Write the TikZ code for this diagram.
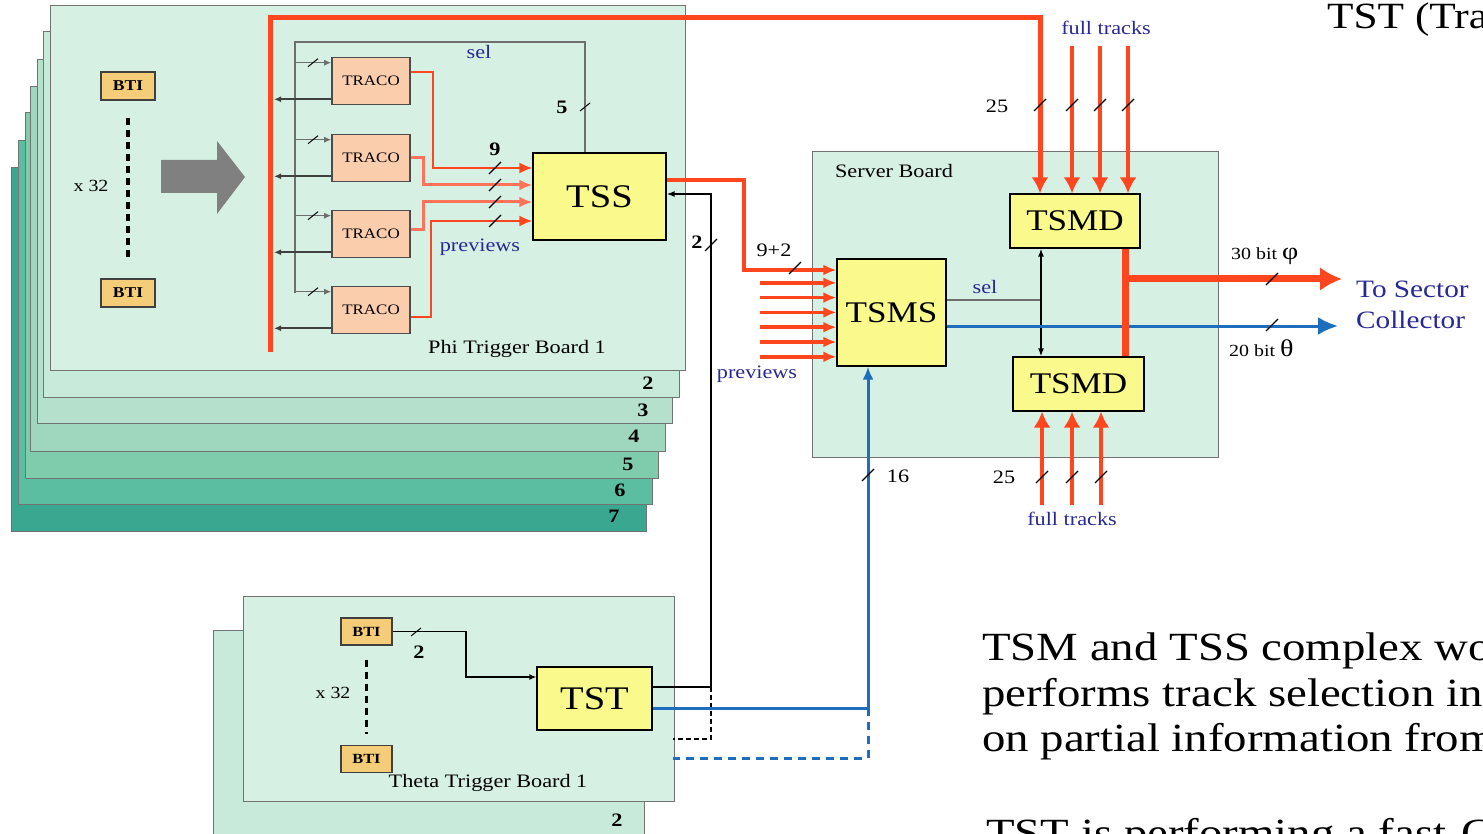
\documentclass[tikz,border=0pt]{standalone}
\usepackage{fontspec}
\setmainfont{Liberation Serif}[FakeStretch=1.17]
\usetikzlibrary{arrows.meta,calc}
\definecolor{rd}{RGB}{255,70,30}
\definecolor{rdl}{RGB}{255,115,90}
\definecolor{bl}{RGB}{30,110,190}
\definecolor{tb}{RGB}{40,40,150}
\definecolor{yel}{RGB}{250,250,140}
\definecolor{peach}{RGB}{250,205,172}
\definecolor{btic}{RGB}{245,205,120}
\definecolor{pb1}{RGB}{214,240,228}
\definecolor{pb2}{RGB}{200,234,218}
\definecolor{pb3}{RGB}{180,224,204}
\definecolor{pb4}{RGB}{158,214,190}
\definecolor{pb5}{RGB}{126,204,172}
\definecolor{pb6}{RGB}{92,190,160}
\definecolor{pb7}{RGB}{58,168,144}
\definecolor{arrgray}{RGB}{128,128,128}
\definecolor{selgray}{RGB}{110,110,110}
\begin{document}
\begin{tikzpicture}[x=1pt,y=-1pt,
  board/.style={draw=black!55, line width=0.8pt},
  ybox/.style={draw=black, line width=1.3pt, fill=yel, inner sep=0pt},
  trbox/.style={draw=black!70, line width=1.6pt, fill=peach, minimum width=78pt, minimum height=47pt, inner sep=0pt, font=\fontsize{14.5}{16}\selectfont},
  btibox/.style={draw=black!75, line width=1.5pt, fill=btic, inner sep=0pt, font=\bfseries\fontsize{15}{16}\selectfont},
  lbl/.style={inner sep=0pt, font=\fontsize{19}{22}\selectfont},
  blbl/.style={lbl, text=tb},
  numlbl/.style={inner sep=0pt, font=\bfseries\fontsize{19}{22}\selectfont},
  bigtxt/.style={inner sep=0pt, anchor=base west, font=\fontsize{40}{46}\selectfont},
  selline/.style={draw=selgray, line width=1.2pt},
  outline/.style={draw=black!75, line width=2.2pt},
  tarr/.style={-{Latex[length=7pt,width=6pt]}},
  rarr/.style={-{Latex[length=13pt,width=11pt]}},
  rarrB/.style={-{Latex[length=16pt,width=17pt]}},
  slash/.pic={\draw[black, line width=1.3pt] (-6,6) -- (6,-6);},
  sslash/.pic={\draw[black, line width=1pt] (-5,4) -- (5,-4);}
]
\useasboundingbox (0,0) rectangle (1483,834);
\fill[white] (0,0) rectangle (1483,834);

% ---------- Phi trigger boards ----------
\foreach \l/\t/\r/\b/\c/\n/\nx/\ny in {11/167/646/531/pb7/7/614/516, 18/140/652/504/pb6/6/620/490, 25/112/658/478/pb5/5/628/464, 30/86/665/451/pb4/4/634/436, 37/59/672/423/pb3/3/643/410, 43/31/679/397/pb2/2/648/383}{
  \draw[board,fill=\c] (\l,\t) rectangle (\r,\b);
  \node[numlbl] (phin\n) at (\nx,\ny) {\n};
}
\draw[board,fill=pb1] (50,5) rectangle (685,370);
\node[lbl] (phitxt) at (517,349) {Phi Trigger Board 1};

% BTI column
\node[btibox, minimum width=54pt, minimum height=28pt] (bti1) at (128,86) {BTI};
\node[btibox, minimum width=54pt, minimum height=28pt] (bti2) at (128,293) {BTI};
\draw[black, line width=3.5pt, dash pattern=on 7pt off 5pt] ($(bti1.south)+(0,17)$) -- ($(bti2.north)+(0,-18)$);
\node[lbl, font=\fontsize{17}{20}\selectfont] (x32a) at (91,186) {x 32};

% gray block arrow
\fill[arrgray] (161,160) -- (217,160) -- (217,141) -- (245,177) -- (217,214) -- (217,193) -- (161,193) -- cycle;

% TRACOs and TSS
\foreach \i/\y in {1/81,2/158,3/234,4/310} \node[trbox] (tr\i) at (371,\y) {TRACO};
\node[ybox, minimum width=133pt, minimum height=87pt, font=\fontsize{33}{36}\selectfont] (tss) at (599.5,196.5) {TSS};

% sel loop
\coordinate (selR) at (585,42);
\coordinate (selL) at (295,42);
\coordinate (selB) at (295,293);
\coordinate (redV) at (270,0);
\draw[selline] (tss.north -| selR) -- (selR) -- (selL) -- (selB);
\pic at (585,107) {sslash};
\node[numlbl] (n5) at (562,107) {5};
\node[blbl] (sel1) at (479,52) {sel};
\foreach \i in {1,...,4} {
  \coordinate (in\i) at ($(tr\i.north west)+(0,6)$);
  \draw[selline, tarr] (selL |- in\i) -- (in\i);
  \pic at ($(selL |- in\i)+(18,0)$) {sslash};
  \coordinate (out\i) at ($(tr\i.south west)+(0,-6)$);
  \draw[outline, tarr] (out\i) -- ($(redV |- out\i)+(4,0)$);
}

% TRACO -> TSS
\coordinate (k1) at (433,168);
\coordinate (k2) at (423,185);
\coordinate (k3) at (423,202);
\coordinate (k4) at (431,221);
\draw[rd, line width=2.2pt, rarr] ($(tr1.east)+(0,-9)$) -| (k1) -- (k1 -| tss.west);
\draw[rdl, line width=3pt, rarr] (tr2.east) -| (k2) -- (k2 -| tss.west);
\draw[rdl, line width=3pt, rarr] ($(tr3.east)+(0,-4)$) -| (k3) -- (k3 -| tss.west);
\draw[rd, line width=2.2pt, rarr] ($(tr4.east)+(0,7)$) -| (k4) -- (k4 -| tss.west);
\foreach \y in {168,185,202,221} \pic at (495,\y) {slash};
\node[numlbl] (n9) at (495,149) {9};
\node[blbl] (prev1) at (480,247) {previews};

% main red line to TSMD
\coordinate (rbot) at (270,352);
\coordinate (rtop1) at (270,18);
\coordinate (rtop2) at (1040,18);

% ---------- Server board ----------
\draw[board, fill=pb1] (812,151) rectangle (1218,457);
\node[lbl] (srv) at (894,171) {Server Board};
\node[ybox, minimum width=109pt, minimum height=107pt, font=\fontsize{30}{33}\selectfont] (tsms) at (891.5,312.5) {TSMS};
\node[ybox, minimum width=130pt, minimum height=54pt, font=\fontsize{30}{33}\selectfont] (tsmd1) at (1075,221) {TSMD};
\node[ybox, minimum width=131pt, minimum height=54pt, font=\fontsize{30}{33}\selectfont] (tsmd2) at (1078.5,384) {TSMD};

\draw[rd, line width=5pt, rarrB] (rbot) -- (rtop1) -- (rtop2) -- (rtop2 |- tsmd1.north);

% TSS -> TSMS
\coordinate (tssout) at ($(tss.east)+(0,-16.5)$);
\coordinate (t1) at (744,270);
\draw[rd, line width=3.5pt, rarr] (tssout) -| (t1) -- (t1 -| tsms.west);
\pic at (795,268) {slash};
\node[lbl] (n92) at (774,250) {9+2};
\foreach \k in {1,...,6} {
  \coordinate (pv\k) at (760,{268+14.8*\k});
  \draw[rd, line width=3.5pt, rarr] (pv\k) -- (pv\k -| tsms.west);
}
\node[blbl] (prev2) at (757,374) {previews};

% full tracks top
\foreach \x in {1072,1100,1128} {
  \coordinate (ft\x) at (\x,46);
  \draw[rd, line width=4pt, rarrB] (ft\x) -- (ft\x |- tsmd1.north);
}
\foreach \x in {1040,1072,1100,1128} \pic at (\x,105) {slash};
\node[lbl] (n25a) at (997,106) {25};
\node[blbl] (ftA) at (1106,28) {full tracks};

% full tracks bottom
\foreach \x in {1042,1072,1101} {
  \coordinate (fb\x) at (\x,505);
  \draw[rd, line width=4pt, rarrB] (fb\x) -- (fb\x |- tsmd2.south);
  \pic at (\x,477) {slash};
}
\node[lbl] (n25b) at (1004,477) {25};
\node[blbl] (ftB) at (1072,519) {full tracks};

% TSMD link and sel
\coordinate (da) at (1041,0);
\coordinate (sl) at ($(tsms.east)+(0,-12.5)$);
\draw[selgray, line width=2.5pt] (sl) -- (sl -| da);
\node[blbl] (sel2) at (985,287) {sel};
\draw[black, line width=1.4pt, {Latex[length=8pt,width=6pt]}-{Latex[length=8pt,width=6pt]}] (da |- tsmd1.south) -- (da |- tsmd2.north);

% blue theta output
\coordinate (bo) at ($(tsms.east)+(0,13.5)$);
\coordinate (boe) at (1338,326);
\draw[bl, line width=3pt, -{Latex[length=20pt,width=18pt]}] (bo) -- (boe);
\pic at (1272,325) {slash};
\node[lbl, anchor=west, font=\fontsize{17}{20}\selectfont] (th20) at (1229,348) {20 bit \fontsize{24}{24}\selectfont θ};

% red phi output
\coordinate (rv) at (1125,0);
\draw[rd, line width=7pt] (rv |- tsmd1.south) -- (rv |- tsmd2.north);
\coordinate (ro) at (1125,279);
\coordinate (roe) at (1342,279);
\draw[rd, line width=7pt, -{Latex[length=22pt,width=24pt]}] (ro) -- (roe);
\pic at (1272,279) {slash};
\node[lbl, anchor=west, font=\fontsize{17}{20}\selectfont] (ph30) at (1231,256) {30 bit \fontsize{24}{24}\selectfont φ};

\node[inner sep=0pt, anchor=west, align=left, text=tb, font=\fontsize{25}{31}\selectfont] (sc) at (1356,305) {To Sector\\Collector};

% ---------- Theta trigger boards ----------
\draw[board, fill=pb2] (213,630) rectangle (644,850);
\node[numlbl] (thn2) at (617,820) {2};
\draw[board, fill=pb1] (243,596) rectangle (674,801);
\node[lbl] (thtxt) at (488,783) {Theta Trigger Board 1};
\node[btibox, minimum width=51pt, minimum height=27pt, font=\bfseries\fontsize{14}{15}\selectfont] (tb1) at (366.5,631.5) {BTI};
\node[btibox, minimum width=51pt, minimum height=27pt, font=\bfseries\fontsize{14}{15}\selectfont] (tb2) at (366.5,759) {BTI};
\draw[black, line width=3.5pt, dash pattern=on 7pt off 5pt] ($(tb1.south)+(0,14)$) -- ($(tb2.north)+(0,-11)$);
\node[lbl, font=\fontsize{17}{20}\selectfont] (x32b) at (333,693) {x 32};
\node[ybox, minimum width=115pt, minimum height=63pt, font=\fontsize{33}{36}\selectfont] (tst) at (594.5,698.5) {TST};
\coordinate (tk) at (466,677);
\draw[black, line width=1.5pt, tarr] (tb1.east) -| (tk) -- (tk -| tst.west);
\pic at (416,632) {sslash};
\node[numlbl] (n2b) at (419,652) {2};

% TST -> TSS
\coordinate (tstA) at ($(tst.east)+(0,-11.5)$);
\coordinate (vb) at (711,194);
\draw[black, line width=1.4pt, -{Latex[length=8pt,width=6pt]}] (tstA) -| (vb) -- (vb -| tss.east);
\pic at (711,245) {slash};
\node[numlbl] (n2a) at (697,242) {2};
\coordinate (dk1) at (711,739);
\coordinate (dk2) at (673,739);
\draw[black, line width=1.3pt, dash pattern=on 5pt off 3pt] (vb |- tstA) -- (dk1) -- (dk2);

% TST -> TSMS (blue)
\coordinate (tstB) at ($(tst.east)+(0,9.5)$);
\coordinate (bc) at (868,708);
\draw[bl, line width=3pt, -{Latex[length=13pt,width=11pt]}] (tstB) -- (bc) -- (bc |- tsms.south);
\coordinate (bd1) at (868,758);
\coordinate (bd2) at (673,758);
\draw[bl, line width=3pt, dash pattern=on 8pt off 6pt] (bc) -- (bd1) -- (bd2);
\pic at (868,475) {slash};
\node[lbl] (n16) at (898,476) {16};

% ---------- text ----------
\node[inner sep=0pt, anchor=west, font=\fontsize{37}{40}\selectfont] (ttl) at (1327,20) {TST (Tra};
\node[bigtxt] (p1) at (982,660) {TSM and TSS complex wo};
\node[bigtxt] (p2) at (982,706) {performs track selection ins};
\node[bigtxt] (p3) at (982,751) {on partial information from};
\node[bigtxt] (p4) at (986,846) {TST is performing a fast-C};
\end{tikzpicture}
\end{document}
